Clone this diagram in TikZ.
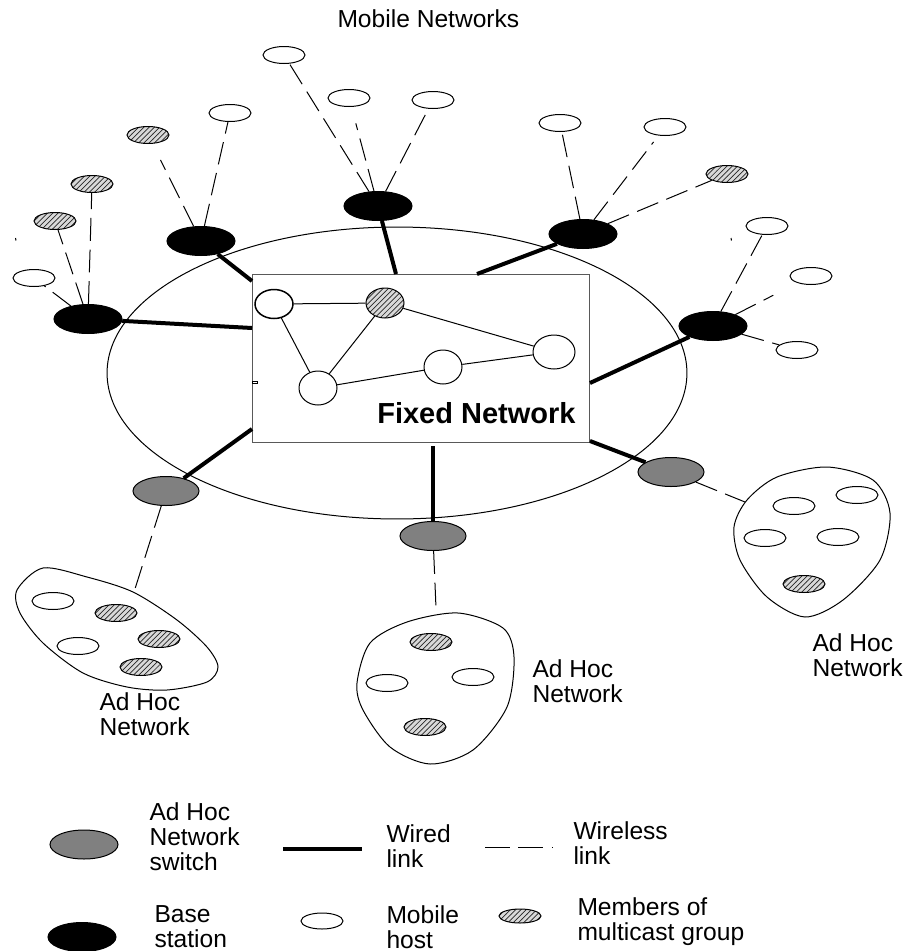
\documentclass[tikz,border=0pt]{standalone}
\usepackage{fontspec}
\setmainfont{Liberation Sans}
\usetikzlibrary{shapes.geometric}
\usetikzlibrary{patterns}

\begin{document}
\begin{tikzpicture}[x=0.02cm,y=-0.02cm,line width=0.2mm,
  bs/.style={draw,ellipse,fill=black,inner sep=0,minimum width=1.36cm,minimum height=0.58cm},
  sw/.style={draw,ellipse,fill=gray,inner sep=0,minimum width=1.32cm,minimum height=0.58cm},
  mh/.style={draw,ellipse,fill=white,inner sep=0,minimum width=0.84cm,minimum height=0.34cm},
  mm/.style={mh,preaction={fill=gray!30},pattern=north east lines,pattern color=black!85},
  fx/.style={draw,ellipse,fill=white,inner sep=0,minimum width=0.76cm,minimum height=0.68cm},
  wired/.style={line width=0.8mm},
  wless/.style={dash pattern=on 13pt off 5pt},
  lbl/.style={anchor=base west,align=left,inner sep=0,font=\fontsize{14}{14}\selectfont}]
\useasboundingbox (0,0) rectangle (907,951);

\node[lbl] (title) at (337,27) {Mobile Networks};

% fixed part
\draw (397,373) ellipse [x radius=5.8cm, y radius=2.92cm];
\node[draw=black!65,fill=white,minimum width=6.76cm,minimum height=3.38cm,inner sep=0] (fixnet) at (421,358.5) {};
\draw (252,381.5) rectangle (257,383.5);

\node[fx,line width=0.3mm,minimum height=0.58cm] (fa) at (274,304) {};
\node[fx,minimum height=0.6cm,preaction={fill=gray!30},pattern=north east lines,pattern color=black!85] (fb) at (385,303) {};
\node[fx] (fc) at (318,388) {};
\node[fx] (fd) at (443,367) {};
\node[fx,minimum width=0.84cm] (fe) at (554,352) {};
\draw (fa) -- (fb);
\draw (fa) -- (fc);
\draw (fb) -- (fc);
\draw (fb) -- (fe);
\draw (fc) -- (fd);
\draw (fd) -- (fe);
\node[anchor=base east,inner sep=0,font=\bfseries\fontsize{16.5}{18}\selectfont] (fixlbl) at (576,423) {Fixed Network};

% base stations
\node[bs] (bs1) at (88,319) {};
\node[bs] (bs2) at (201,241) {};
\node[bs] (bs3) at (378,206) {};
\node[bs] (bs4) at (583,234) {};
\node[bs] (bs5) at (713,326) {};

% ad hoc switches
\node[sw] (sw1) at (166,491) {};
\node[sw] (sw2) at (433,536) {};
\node[sw] (sw3) at (671,472) {};

% wired links
\coordinate (p1) at (252,328);
\coordinate (p2) at (252,281);
\coordinate (p3) at (396,274);
\coordinate (p4) at (477,274);
\coordinate (p5) at (590,383);
\coordinate (p6) at (252,429);
\coordinate (p7) at (433,446);
\coordinate (p8) at (590,441);
\draw[wired] (bs1) -- (p1);
\draw[wired] (bs2) -- (p2);
\draw[wired] (bs3) -- (p3);
\draw[wired] (bs4) -- (p4);
\draw[wired] (bs5) -- (p5);
\draw[wired] (sw1) -- (p6);
\draw[wired] (sw2) -- (p7);
\draw[wired] (sw3) -- (p8);

% mobile hosts
\node[mh] (h1a) at (34,278) {};
\node[mm] (h1b) at (55,221) {};
\node[mm] (h1c) at (92,184) {};
\node[mm] (h2a) at (148,135) {};
\node[mh] (h2b) at (230,113) {};
\node[mh] (h3a) at (284,55) {};
\node[mh] (h3b) at (349,98) {};
\node[mh] (h3c) at (433,100) {};
\node[mh] (h4a) at (560,123) {};
\node[mh] (h4b) at (665,127) {};
\node[mm] (h4c) at (727,174) {};
\node[mh] (h5a) at (767,226) {};
\node[mh] (h5b) at (811,276) {};
\node[mh] (h5c) at (797,350) {};

% wireless links
\draw[wless] (bs1) -- (h1a);
\draw[wless] (bs1) -- (h1b);
\draw[wless] (bs1) -- (h1c);
\draw[wless,shorten >=0.36cm] (bs2) -- (h2a);
\draw[wless] (bs2) -- (h2b);
\draw[wless] (bs3) -- (h3a);
\draw[wless,shorten >=0.34cm] (bs3) -- (h3b);
\draw[wless] (bs3) -- (h3c);
\draw[wless] (bs4) -- (h4a);
\draw[wless,shorten >=0.16cm] (bs4) -- (h4b);
\draw[wless] (bs4) -- (h4c);
\draw[wless] (bs5) -- (h5a);
\draw[wless,shorten >=0.54cm] (bs5) -- (h5b);
\draw[wless] (bs5) -- (h5c);
\draw (15.5,238) -- (16,240.5);
\draw (731,238) -- (731.5,240.5);

% ad hoc networks
\draw plot[smooth cycle] coordinates {(43,568) (87,577) (133,592) (177,620) (207,647) (218,667) (207,682) (167,690) (127,687) (83,673) (43,643) (20,613) (17,590)};
\node[mh] (a1) at (53,601) {};
\node[mm] (a2) at (116,613) {};
\node[mh] (a3) at (78,646) {};
\node[mm] (a4) at (159,639) {};
\node[mm] (a5) at (141,667) {};
\coordinate (q1) at (134,592);
\draw[wless] (sw1) -- (q1);
\node[lbl] (adhoc1) at (99,735) {Ad Hoc\\Network};

\draw plot[smooth cycle] coordinates {(458,613) (503,628) (514,657) (507,707) (473,750) (430,764) (390,747) (363,710) (357,683) (370,643) (407,622)};
\node[mm] (b1) at (431,642) {};
\node[mh] (b2) at (387,683) {};
\node[mh] (b3) at (473,677) {};
\node[mm] (b4) at (425,727) {};
\coordinate (q2) at (436,608);
\draw[wless] (sw2) -- (q2);
\node[lbl] (adhoc2) at (532,702) {Ad Hoc\\Network};

\draw plot[smooth cycle] coordinates {(827,467) (873,480) (890,513) (880,560) (843,600) (805,617) (767,597) (740,560) (734,527) (747,500) (777,477)};
\node[mh] (c1) at (794,506) {};
\node[mh] (c2) at (857,495) {};
\node[mh] (c3) at (765,538) {};
\node[mh] (c4) at (838,537) {};
\node[mm] (c5) at (804,584) {};
\coordinate (q3) at (745,502);
\draw[wless] (sw3) -- (q3);
\node[lbl] (adhoc3) at (812,676) {Ad Hoc\\Network};

% legend
\node[sw,minimum width=1.36cm] (ksw) at (84,844.5) {};
\node[lbl] (tsw) at (149,870) {Ad Hoc\\Network\\switch};
\coordinate (kw1) at (283,849);
\coordinate (kw2) at (362,849);
\draw[wired] (kw1) -- (kw2);
\node[lbl] (twired) at (386,867) {Wired\\link};
\coordinate (kl1) at (485,847);
\coordinate (kl2) at (553,847);
\draw[dash pattern=on 14pt off 5pt] (kl1) -- (kl2);
\node[lbl] (twless) at (573,864) {Wireless\\link};
\node[bs] (kbs) at (82,937) {};
\node[lbl] (tbs) at (154,947) {Base\\station};
\node[mh,minimum height=0.32cm] (kmh) at (322,921) {};
\node[lbl] (tmh) at (386,948) {Mobile\\host};
\node[mm,minimum height=0.28cm] (kmm) at (520,916) {};
\node[lbl] (tmm) at (577,940) {Members of\\multicast group};

\end{tikzpicture}
\end{document}
